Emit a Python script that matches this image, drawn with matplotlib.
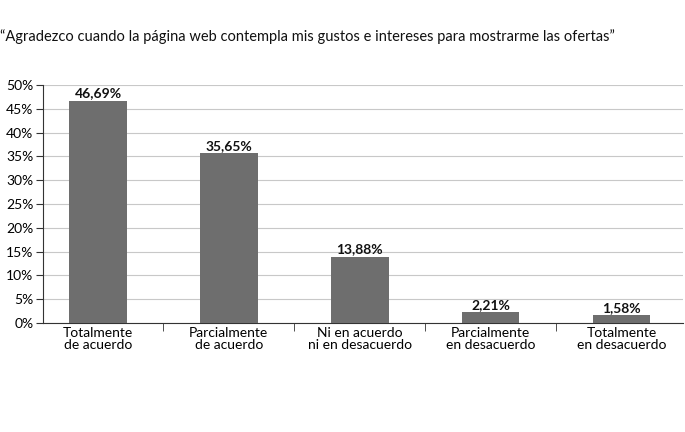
import matplotlib
matplotlib.use('Agg')
import matplotlib.pyplot as plt
import numpy as np

plt.rcParams['font.family'] = ['Lato', 'DejaVu Sans']

categorias = ['Totalmente\nde acuerdo', 'Parcialmente\nde acuerdo',
              'Ni en acuerdo\nni en desacuerdo', 'Parcialmente\nen desacuerdo',
              'Totalmente\nen desacuerdo']
valores = [46.69, 35.65, 13.88, 2.21, 1.58]

fig = plt.figure(figsize=(6.85, 4.32), dpi=100)
ax = fig.add_axes([43/685, 1 - 323/432, 640/685, 238/432])

x = np.arange(len(valores))
ax.bar(x, valores, width=0.44, color='#6e6e6e', zorder=3)
for xi, v in zip(x, valores):
    ax.text(xi, v + 0.3, ('%.2f' % v).replace('.', ',') + '%', ha='center',
            va='bottom', fontsize=10, fontweight='bold', color='#111111')

ax.set_xlim(-0.42, 4.47)
ax.set_ylim(0, 50)
ax.set_yticks(range(0, 51, 5))
ax.set_yticklabels(['%d%%' % t for t in range(0, 51, 5)], fontsize=10)
ax.yaxis.grid(True, color='#c8c8c8', lw=0.8, zorder=0)

ax.set_xticks(x)
ax.set_xticklabels(categorias, fontsize=10, linespacing=1.0)
ax.tick_params(axis='x', length=0, pad=3)
ax.set_xticks(np.arange(0.5, 4.5, 1), minor=True)
ax.tick_params(axis='x', which='minor', length=6, color='#333333')
ax.tick_params(axis='y', length=5, color='#333333', pad=2)

for s in ['top', 'right']:
    ax.spines[s].set_visible(False)
ax.spines['left'].set_color('#333333')
ax.spines['bottom'].set_color('#333333')

fig.text(0.0, 1 - 37/432,
         '\u201cAgradezco cuando la página web contempla mis gustos e intereses para mostrarme las ofertas\u201d',
         fontsize=10.5, va='center', ha='left', color='#111111')

fig.savefig('out.png', dpi=100)
